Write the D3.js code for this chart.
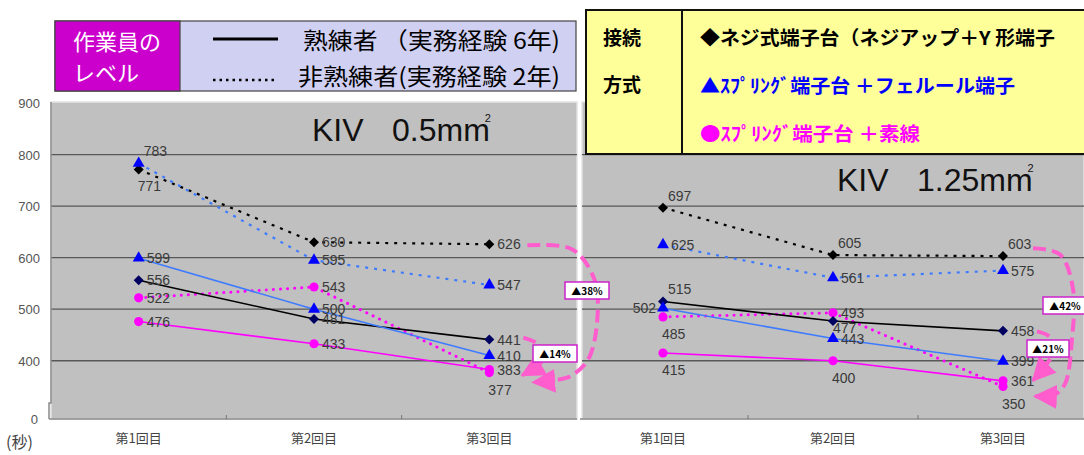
<!DOCTYPE html>
<html>
<head>
<meta charset="utf-8">
<script src="https://cdn.jsdelivr.net/npm/d3@7"></script>
<style>
  html, body { margin: 0; padding: 0; background: #fff; }
  svg { display: block; }
  .num { font-family: "Liberation Sans", Arial, sans-serif; }
  .jp { font-family: "Noto Sans CJK JP", sans-serif; }
</style>
</head>
<body>
<svg id="chart" width="1084" height="455"></svg>
<script>
// ---- data ----
const categories = ["第1回目", "第2回目", "第3回目"];
const yTicks = [0, 400, 500, 600, 700, 800, 900];

// KIV 0.5mm2
const leftScrewNovice   = [771, 630, 626];
const leftScrewSkilled  = [556, 481, 441];
const leftFerruleNovice = [783, 595, 547];
const leftFerruleSkilled = [599, 500, 410];
const leftBareNovice    = [522, 543, 377];
const leftBareSkilled   = [476, 433, 383];

// KIV 1.25mm2
const rightScrewNovice   = [697, 605, 603];
const rightScrewSkilled  = [515, 477, 458];
const rightFerruleNovice = [625, 561, 575];
const rightFerruleSkilled = [502, 443, 399];
const rightBareNovice    = [485, 493, 350];
const rightBareSkilled   = [415, 400, 361];

const reductions = ["▲38%", "▲14%", "▲42%", "▲21%"];

// where each value label sits: r = right, a = above, b = below, l = left
const leftPlace = {
  screwNovice: ["b", "r", "r"], screwSkilled: ["r", "r", "r"],
  ferruleNovice: ["a", "r", "r"], ferruleSkilled: ["r", "r", "r"],
  bareNovice: ["r", "r", "b"], bareSkilled: ["r", "r", "r"]
};
const rightPlace = {
  screwNovice: ["a", "a", "a"], screwSkilled: ["a", "s", "r"],
  ferruleNovice: ["r", "r", "r"], ferruleSkilled: ["l", "r", "r"],
  bareNovice: ["b", "r", "b"], bareSkilled: ["b", "b", "r"]
};

const svg = d3.select("#chart");
const pink = "#ff5ccd";

// broken axis: 0 sits at the floor, 400..900 is linear
const y = d3.scaleLinear().domain([0, 287, 900]).range([419, 419, 103]);

function makeSeries(s, place) {
  return [
    { key: "screwNovice",   values: s[0], line: "#000",    dash: "3,6", marker: "diamond",  fill: "#000" },
    { key: "ferruleNovice", values: s[2], line: "#3f7bff", dash: "3,6", marker: "triangle", fill: "#0000ff" },
    { key: "bareNovice",    values: s[4], line: "#ff00ff", dash: "0.1,7", marker: "circle", fill: "#ff00ff", round: true },
    { key: "screwSkilled",  values: s[1], line: "#000",    dash: null,  marker: "diamond",  fill: "#000060" },
    { key: "ferruleSkilled", values: s[3], line: "#3f7bff", dash: null, marker: "triangle", fill: "#0000ff" },
    { key: "bareSkilled",   values: s[5], line: "#ff00ff", dash: null,  marker: "circle",   fill: "#ff00ff" }
  ].map(d => ({ ...d, place: place[d.key] }));
}

const labelOffset = {
  r: { anchor: "start", dx: 8, dy: 0 },
  a: { anchor: "start", dx: 5, dy: -12 },
  b: { anchor: "start", dx: -1, dy: 17 },
  s: { anchor: "start", dx: 0, dy: 7 },
  l: { anchor: "end", dx: -7, dy: 0 }
};

function drawPanel(x0, x1, bandRange, series, title, showAxis) {
  const x = d3.scaleBand().domain(categories).range(bandRange);
  const cx = c => x(c) + x.bandwidth() / 2;
  const g = svg.append("g");

  g.append("rect")
    .attr("x", x0).attr("y", 102).attr("width", x1 - x0).attr("height", 317)
    .attr("fill", "#c0c0c0").attr("stroke", "#e2e2e2").attr("stroke-width", 1.5);

  g.selectAll("line.grid")
    .data(yTicks.filter(t => t >= 400 && t < 900))
    .enter().append("line")
    .attr("class", "grid")
    .attr("x1", x0).attr("x2", x1)
    .attr("y1", d => y(d)).attr("y2", d => y(d))
    .attr("stroke", "#585858").attr("stroke-width", 1.3);

  // floor and category ticks
  g.append("line").attr("x1", x0 - 2).attr("x2", x1).attr("y1", 419).attr("y2", 419)
    .attr("stroke", "#8a8a8a").attr("stroke-width", 1.5);
  g.selectAll("line.xt")
    .data(categories.slice(1))
    .enter().append("line")
    .attr("class", "xt")
    .attr("x1", d => x(d)).attr("x2", d => x(d))
    .attr("y1", 419).attr("y2", 415)
    .attr("stroke", "#777");

  g.selectAll("text.cat")
    .data(categories)
    .enter().append("text")
    .attr("class", "jp")
    .attr("x", d => cx(d)).attr("y", 443)
    .attr("text-anchor", "middle")
    .attr("font-size", 13).attr("fill", "#444")
    .text(d => d);

  if (showAxis) {
    g.append("path")
      .attr("d", `M${x0},102 V403 H${x0 - 2} V419`)
      .attr("fill", "none").attr("stroke", "#8a8a8a").attr("stroke-width", 1.5);
    g.selectAll("text.yt")
      .data(yTicks)
      .enter().append("text")
      .attr("class", "num")
      .attr("x", d => d === 0 ? 38 : 40)
      .attr("y", d => y(d) + 5)
      .attr("text-anchor", "end")
      .attr("font-size", 13).attr("fill", "#555")
      .text(d => d);
    g.append("text")
      .attr("class", "jp")
      .attr("x", 6).attr("y", 448)
      .attr("font-size", 16).attr("fill", "#444")
      .text("(秒)");
  }

  // title, with the square mark as part of the same text
  g.append("text")
    .attr("class", "num")
    .attr("x", title.x).attr("y", title.y)
    .attr("font-size", 32).attr("fill", "#111")
    .text("KIV");
  const size = g.append("text")
    .attr("class", "num")
    .attr("x", title.x + 80).attr("y", title.y)
    .attr("font-size", 32).attr("fill", "#111");
  size.append("tspan").text(title.size);
  size.append("tspan")
    .attr("dx", -5).attr("dy", -19)
    .attr("font-size", 11)
    .text("2");

  const line = d3.line().x((d, i) => cx(categories[i])).y(d => y(d));

  series.forEach(s => {
    g.append("path")
      .attr("d", line(s.values))
      .attr("fill", "none")
      .attr("stroke", s.line)
      .attr("stroke-width", s.round ? 3 : (s.dash ? 2.2 : 1.6))
      .attr("stroke-dasharray", s.dash)
      .attr("stroke-linecap", s.round ? "round" : "butt");
  });

  series.forEach(s => {
    const m = g.selectAll(null).data(s.values).enter().append("path")
      .attr("transform", (d, i) => `translate(${cx(categories[i])},${y(d)})`)
      .attr("fill", s.fill);
    if (s.marker === "diamond") m.attr("d", "M0,-5L5,0L0,5L-5,0Z");
    else if (s.marker === "triangle") m.attr("d", d3.symbol(d3.symbolTriangle, 62)());
    else m.attr("d", d3.symbol(d3.symbolCircle, 66)());
  });

  series.forEach(s => {
    g.selectAll(null).data(s.values).enter().append("text")
      .attr("class", "num")
      .attr("x", (d, i) => cx(categories[i]) + labelOffset[s.place[i]].dx)
      .attr("y", (d, i) => y(d) + labelOffset[s.place[i]].dy + 5)
      .attr("text-anchor", (d, i) => labelOffset[s.place[i]].anchor)
      .attr("font-size", 14).attr("fill", "#3a3a3a")
      .text(d => d);
  });

  return { x, cx, g };
}

const left = drawPanel(51, 577, [51, 577],
  makeSeries([leftScrewNovice, leftScrewSkilled, leftFerruleNovice, leftFerruleSkilled, leftBareNovice, leftBareSkilled], leftPlace),
  { x: 312, y: 141, size: "0.5mm" }, true);

const right = drawPanel(582, 1084, [578, 1088],
  makeSeries([rightScrewNovice, rightScrewSkilled, rightFerruleNovice, rightFerruleSkilled, rightBareNovice, rightBareSkilled], rightPlace),
  { x: 837, y: 191, size: "1.25mm" }, false);

// ---- reduction callouts ----
const defs = svg.append("defs");
defs.append("marker")
  .attr("id", "head")
  .attr("markerUnits", "userSpaceOnUse")
  .attr("markerWidth", 24).attr("markerHeight", 24)
  .attr("viewBox", "0 0 22 22")
  .attr("refX", 20).attr("refY", 11)
  .attr("orient", "auto")
  .append("path").attr("d", "M0,0L22,11L0,22Z").attr("fill", pink);

const curve = d3.line().curve(d3.curveCatmullRom.alpha(0.5));

function callout(pts, box, label) {
  svg.append("path")
    .attr("d", curve(pts))
    .attr("fill", "none")
    .attr("stroke", pink)
    .attr("stroke-width", 4)
    .attr("stroke-dasharray", "13,6")
    .attr("marker-end", "url(#head)");
  svg.append("rect")
    .attr("x", box[0]).attr("y", box[1]).attr("width", box[2]).attr("height", 17)
    .attr("fill", "#fff").attr("stroke", "#cc22cc").attr("stroke-width", 1.5);
  svg.append("text")
    .attr("class", "jp")
    .attr("x", box[0] + box[2] / 2).attr("y", box[1] + 13)
    .attr("text-anchor", "middle")
    .attr("font-size", 10).attr("font-weight", "bold").attr("fill", "#000")
    .text(label);
}

const lx3 = left.cx(categories[2]);
const rx3 = right.cx(categories[2]);

callout([[lx3 + 38, y(624)], [lx3 + 83, y(616)], [lx3 + 105, y(558)], [lx3 + 108, y(481)],
  [lx3 + 99, y(403)], [lx3 + 81, y(370)], [lx3 + 64, y(362)], [lx3 + 44, y(358)]], [565, 282, 44], reductions[0]);
callout([[lx3 + 34, y(445)], [lx3 + 49, y(432)], [lx3 + 56, y(407)], [lx3 + 33, y(372)]],
  [533, 345, 44], reductions[1]);
callout([[rx3 + 30, y(618)], [rx3 + 57, y(606)], [rx3 + 70, y(539)], [rx3 + 69, y(442)],
  [rx3 + 62, y(355)], [rx3 + 52, y(335)], [rx3 + 32, y(331)]], [1043, 297, 44], reductions[2]);
callout([[rx3 + 34, y(457)], [rx3 + 47, y(446)], [rx3 + 51, y(419)], [rx3 + 30, y(362)]],
  [1027, 340, 42], reductions[3]);

// ---- legends ----
const lg = svg.append("g");
lg.append("rect").attr("x", 55).attr("y", 21).attr("width", 521).attr("height", 70)
  .attr("fill", "#d0d0f2").attr("stroke", "#444").attr("stroke-width", 1.2);
lg.append("rect").attr("x", 55).attr("y", 21).attr("width", 125).attr("height", 70)
  .attr("fill", "#cc00cc").attr("stroke", "#444").attr("stroke-width", 1.2);
lg.append("text").attr("class", "jp").attr("x", 73).attr("y", 50)
  .attr("font-size", 22).attr("fill", "#fff").text("作業員の");
lg.append("text").attr("class", "jp").attr("x", 73).attr("y", 81)
  .attr("font-size", 22).attr("fill", "#fff").text("レベル");
lg.append("line").attr("x1", 213).attr("x2", 278).attr("y1", 39).attr("y2", 39)
  .attr("stroke", "#000").attr("stroke-width", 3);
lg.append("line").attr("x1", 213).attr("x2", 278).attr("y1", 80).attr("y2", 80)
  .attr("stroke", "#000").attr("stroke-width", 2.5).attr("stroke-dasharray", "2.5,4");
lg.append("text").attr("class", "jp").attr("x", 303).attr("y", 49)
  .attr("font-size", 23).attr("fill", "#000")
  .attr("textLength", 257).attr("lengthAdjust", "spacingAndGlyphs")
  .text("熟練者 （実務経験  6年)");
lg.append("text").attr("class", "jp").attr("x", 298).attr("y", 85)
  .attr("font-size", 23).attr("fill", "#000")
  .attr("textLength", 262).attr("lengthAdjust", "spacingAndGlyphs")
  .text("非熟練者(実務経験  2年)");

const rg = svg.append("g");
rg.append("rect").attr("x", 586).attr("y", 10).attr("width", 510).attr("height", 144)
  .attr("fill", "#ffff99").attr("stroke", "#111").attr("stroke-width", 2);
rg.append("line").attr("x1", 682).attr("x2", 682).attr("y1", 10).attr("y2", 154)
  .attr("stroke", "#111").attr("stroke-width", 2);
rg.append("text").attr("class", "jp").attr("x", 603).attr("y", 45)
  .attr("font-size", 19).attr("font-weight", "bold").text("接続");
rg.append("text").attr("class", "jp").attr("x", 603).attr("y", 92)
  .attr("font-size", 19).attr("font-weight", "bold").text("方式");

const methodLabels = ["◆ネジ式端子台（ネジアップ＋Y 形端子", "▲ｽﾌﾟﾘﾝｸﾞ端子台 ＋フェルール端子", "●ｽﾌﾟﾘﾝｸﾞ端子台 ＋素線"];
const methodColors = ["#000", "#0000ff", "#ff00ff"];
const methodWidths = [355, 315, 220];
rg.selectAll("text.method")
  .data(methodLabels)
  .enter().append("text")
  .attr("class", "jp method")
  .attr("x", 700)
  .attr("y", (d, i) => 45 + i * 48)
  .attr("font-size", 19).attr("font-weight", "bold")
  .attr("fill", (d, i) => methodColors[i])
  .attr("textLength", (d, i) => methodWidths[i])
  .attr("lengthAdjust", "spacingAndGlyphs")
  .text(d => d);
</script>
</body>
</html>
